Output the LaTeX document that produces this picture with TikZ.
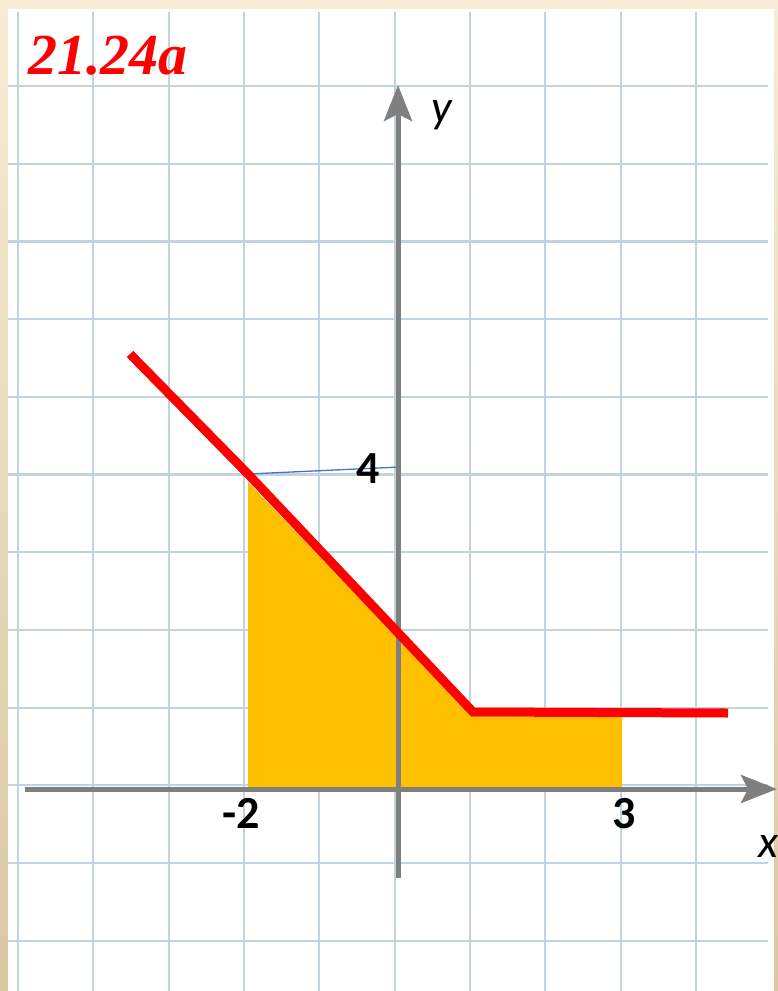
\documentclass[tikz,border=0pt]{standalone}
\usepackage{fontspec}
\setmainfont{Carlito}
\newfontface\titlefont{Liberation Serif Bold Italic}
\usetikzlibrary{arrows.meta}
\definecolor{cream}{HTML}{F7ECD5}
\definecolor{tan}{HTML}{D9C8A0}
\definecolor{gridc}{HTML}{C3D3DE}
\definecolor{axisc}{HTML}{7F7F7F}
\definecolor{fillc}{HTML}{FFC000}
\definecolor{bluec}{HTML}{4472C4}
\tikzset{
  gridline/.style={draw=gridc, line width=2.2pt},
  axisline/.style={draw=axisc, line width=5pt, -{Stealth[length=36pt,width=28pt,inset=7pt]}},
  graphline/.style={draw=red, line width=9pt, line join=miter},
  numlabel/.style={inner sep=0pt, anchor=base, font=\bfseries\fontsize{46}{46}\selectfont},
  varlabel/.style={inner sep=0pt, anchor=base, font=\itshape\fontsize{46}{46}\selectfont},
  titlelabel/.style={inner sep=0pt, anchor=base west, text=red, font=\titlefont\fontsize{58}{58}\selectfont}
}
\begin{document}
\begin{tikzpicture}[x=1pt,y=-1pt]
\useasboundingbox (0,0) rectangle (778,991);
% background
\fill[cream] (0,0) rectangle (778,991);
\shade[top color=cream, bottom color=tan] (0,0) rectangle (8,991);
\shade[top color=cream, bottom color=tan] (774,0) rectangle (778,991);
\fill[white] (8,9) rectangle (774,991);
% grid
\foreach \k in {0,...,9} {
  \draw[gridline] ({18+75.33*\k},12) -- ({18+75.33*\k},991);
}
\foreach \k in {0,...,11} {
  \draw[gridline] (8,{86+77.7*\k}) -- (768,{86+77.7*\k});
}
% key points
\coordinate (O) at (398,789);
\coordinate (A) at (130,354);
\coordinate (B) at (248,474);
\coordinate (C) at (473,712);
\coordinate (D) at (728,713);
\coordinate (Bt) at (400,467);
% shaded region
\fill[fillc] (248,789) -- (248,482) -- (473,717) -- (622,716) -- (622,789) -- cycle;
% blue helper
\draw[bluec, line width=1.3pt] (B) -- (Bt);
% axes
\coordinate (xs) at (25,789);
\coordinate (xe) at (777,789);
\coordinate (ys) at (398,878);
\coordinate (ye) at (398,85);
\draw[axisline] (xs) -- (xe);
\draw[axisline] (ys) -- (ye);
% graph
\draw[graphline] (A) -- (B) -- (C) -- (D);
% labels
\node[numlabel] (l4) at (368,483) {4};
\node[numlabel] (lm2) at (241,828) {-2};
\node[numlabel] (l3) at (624,828) {3};
\node[varlabel] (lx) at (768,857) {x};
\node[varlabel] (ly) at (442,122) {y};
\node[titlelabel] (title) at (28,74) {21.24a};
\end{tikzpicture}
\end{document}
